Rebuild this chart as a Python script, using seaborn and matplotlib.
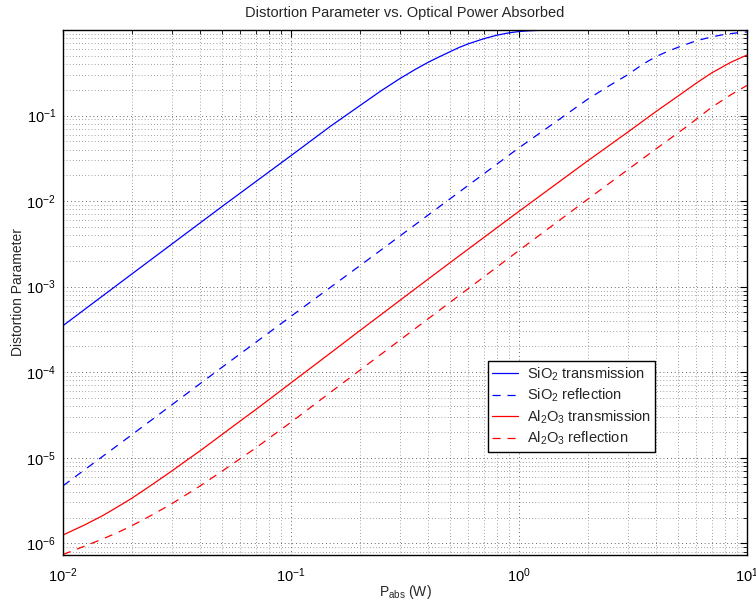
import numpy as np
import pandas as pd
import matplotlib
matplotlib.use("Agg")
import matplotlib.pyplot as plt
import seaborn as sns
from matplotlib.ticker import FixedLocator, NullFormatter, LogFormatterSciNotation

# ---- data ----
p_sio2_t = [0.01, 0.02, 0.05, 0.1, 0.15, 0.2, 0.25, 0.3, 0.35, 0.4, 0.45, 0.5, 0.55, 0.6, 0.7, 0.8, 0.9, 1.0, 1.1, 1.2, 1.4, 1.7, 2.0, 5.0, 10.0]
d_sio2_t = [3.5e-4, 1.4e-3, 8.7e-3, 0.034, 0.076, 0.13, 0.197, 0.27, 0.345, 0.42, 0.49, 0.56, 0.63, 0.69, 0.79, 0.87, 0.925, 0.96, 0.978, 0.988, 0.996, 0.999, 1.0, 1.0, 1.0]

p_sio2_r = [0.01, 0.02, 0.05, 0.1, 0.2, 0.5, 1.0, 1.5, 2.0, 2.5, 3.0, 3.5, 4.0, 4.5, 5.0, 6.0, 7.0, 8.0, 9.0, 10.0]
d_sio2_r = [4.7e-6, 1.85e-5, 1.15e-4, 4.5e-4, 1.75e-3, 1.07e-2, 0.042, 0.09, 0.155, 0.225, 0.30, 0.40, 0.49, 0.565, 0.63, 0.75, 0.83, 0.89, 0.925, 0.95]

p_al2o3_t = [0.01, 0.0125, 0.015, 0.0175, 0.02, 0.025, 0.03, 0.035, 0.04, 0.05, 0.06, 0.07, 0.085, 0.1, 0.15, 0.2, 0.35, 0.5, 1.0, 2.0, 3.0, 4.0, 5.0, 6.0, 7.0, 8.5, 10.0]
d_al2o3_t = [1.25e-6, 1.65e-6, 2.12e-6, 2.7e-6, 3.35e-6, 5.0e-6, 7.0e-6, 9.4e-6, 1.21e-5, 1.88e-5, 2.7e-5, 3.65e-5, 5.4e-5, 7.5e-5, 1.7e-4, 3.05e-4, 9.4e-4, 1.92e-3, 7.6e-3, 2.95e-2, 6.4e-2, 0.112, 0.17, 0.24, 0.315, 0.42, 0.51]

p_al2o3_r = [0.01, 0.0125, 0.015, 0.0175, 0.02, 0.025, 0.03, 0.035, 0.04, 0.05, 0.06, 0.07, 0.085, 0.1, 0.15, 0.2, 0.5, 1.0, 2.0, 4.0, 5.5, 7.0, 8.5, 10.0]
d_al2o3_r = [7.4e-7, 9.3e-7, 1.13e-6, 1.35e-6, 1.6e-6, 2.2e-6, 2.9e-6, 3.75e-6, 4.7e-6, 7.0e-6, 9.8e-6, 1.3e-5, 1.9e-5, 2.6e-5, 5.9e-5, 1.05e-4, 6.6e-4, 2.65e-3, 1.05e-2, 0.041, 0.076, 0.125, 0.175, 0.225]

x_ticks = [1e-2, 1e-1, 1e0, 1e1]
y_ticks = [1e-6, 1e-5, 1e-4, 1e-3, 1e-2, 1e-1]

labels = [r'SiO$_\mathregular{2}$ transmission', r'SiO$_\mathregular{2}$ reflection',
          r'Al$_\mathregular{2}$O$_\mathregular{3}$ transmission', r'Al$_\mathregular{2}$O$_\mathregular{3}$ reflection']
colors = ['#0000ff', '#0000ff', '#ff0000', '#ff0000']
styles = ['-', '--', '-', '--']

sns.set_style("white")
plt.rcParams['font.family'] = ['Liberation Sans', 'DejaVu Sans']
plt.rcParams['mathtext.fontset'] = 'custom'
plt.rcParams['mathtext.rm'] = 'Liberation Sans'
plt.rcParams['mathtext.it'] = 'Liberation Sans:italic'

fig = plt.figure(figsize=(7.56, 6.05), dpi=100)
ax = fig.add_axes([63/756, 50/605, (747-63)/756, (555-30)/605])

series = [(p_sio2_t, d_sio2_t), (p_sio2_r, d_sio2_r), (p_al2o3_t, d_al2o3_t), (p_al2o3_r, d_al2o3_r)]
for (px, dy), lab, col, ls in zip(series, labels, colors, styles):
    df = pd.DataFrame({'P': px, 'D': dy})
    sns.lineplot(data=df, x='P', y='D', ax=ax, color=col, linewidth=0.9, label=lab, sort=True)
    line = ax.lines[-1]
    if ls == '--':
        line.set_dashes((6.5, 5.5))

ax.set_xscale('log')
ax.set_yscale('log')
ax.set_xlim(1e-2, 1e1)
ax.set_ylim(7.3e-7, 1.0)

x_minor = [m * t for t in x_ticks[:-1] for m in range(2, 10)]
y_minor = [m * t for t in [1e-7] + y_ticks for m in range(2, 10)]
y_minor = [v for v in y_minor if 7.3e-7 <= v <= 1.0]
ax.xaxis.set_major_locator(FixedLocator(x_ticks))
ax.yaxis.set_major_locator(FixedLocator(y_ticks))
ax.xaxis.set_minor_locator(FixedLocator(x_minor))
ax.yaxis.set_minor_locator(FixedLocator(y_minor))
ax.xaxis.set_major_formatter(LogFormatterSciNotation())
ax.yaxis.set_major_formatter(LogFormatterSciNotation())
ax.xaxis.set_minor_formatter(NullFormatter())
ax.yaxis.set_minor_formatter(NullFormatter())

ax.grid(True, which='major', color='0.2', linestyle=(0, (1, 3.5)), linewidth=0.6)
ax.grid(True, which='minor', color='0.3', linestyle=(0, (1, 3.5)), linewidth=0.5)

ax.tick_params(which='both', direction='in', top=True, right=True, labelsize=10.5, colors='black')
ax.tick_params(which='major', length=5, width=0.8)
ax.tick_params(which='minor', length=3, width=0.6)
ax.tick_params(axis='x', pad=8)
ax.tick_params(axis='y', pad=5)
for s in ax.spines.values():
    s.set_color('black')
    s.set_linewidth(1.0)

ax.set_title('Distortion Parameter vs. Optical Power Absorbed', fontsize=10.5, pad=9)
ax.set_xlabel(r'P$_\mathregular{abs}$ (W)', fontsize=10, labelpad=-1)
ax.set_ylabel('Distortion Parameter', fontsize=10, labelpad=1)

leg = ax.legend(loc='upper left', bbox_to_anchor=((488-63)/684, (555-361)/525),
                fontsize=10.5, frameon=True, fancybox=False, shadow=False,
                handlelength=1.75, borderpad=0.3, labelspacing=0.28, handletextpad=0.6,
                borderaxespad=0)
leg.get_frame().set_edgecolor('black')
leg.get_frame().set_linewidth(1.0)
leg.get_frame().set_alpha(1.0)

fig.savefig('out.png', dpi=100)
